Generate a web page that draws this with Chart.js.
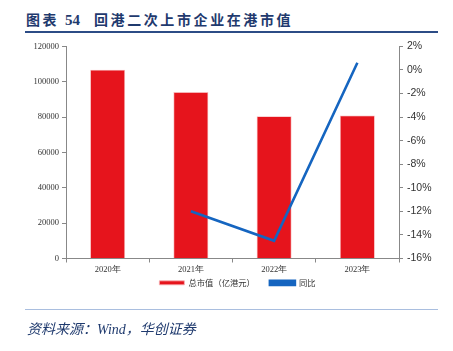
<!DOCTYPE html>
<html>
<head>
<meta charset="utf-8">
<script src="https://cdn.jsdelivr.net/npm/chart.js@4/dist/chart.umd.min.js"></script>
<style>
  body { margin: 0; background: #fff; width: 453px; height: 351px; position: relative; overflow: hidden; }
  #title { position: absolute; left: 26px; top: 9px; font: bold 14px "Noto Sans CJK SC", sans-serif; color: #1f3a6e; letter-spacing: 2.6px; white-space: nowrap; }
  #title .num { font-family: "Liberation Serif", serif; font-size: 15px; letter-spacing: 0; margin: 0 14px 0 2px; }
  #topline { position: absolute; left: 25px; top: 31px; width: 413px; height: 2px; background: #2c4c86; }
  #botline { position: absolute; left: 25px; top: 309px; width: 413px; height: 1px; background: #a9bedf; }
  #source { position: absolute; left: 27px; top: 318px; font: italic 14px "Noto Sans CJK SC", "Liberation Serif", serif; color: #1f3a6e; white-space: nowrap; }
  #source .en { font-family: "Liberation Serif", serif; }
  #wrap { position: absolute; left: 0; top: 36px; width: 453px; height: 274px; }
</style>
</head>
<body>
<div id="title">图表<span class="num"> 54</span>回港二次上市企业在港市值</div>
<div id="topline"></div>
<div id="wrap"><canvas id="myChart"></canvas></div>
<div id="botline"></div>
<div id="source">资料来源：<span class="en">Wind</span>，华创证券</div>
<script>
const labels = ["2020年", "2021年", "2022年", "2023年"];
const marketCap = [106800, 94100, 80500, 80900];
const yoy = [null, -12.0, -14.5, 0.6];

// pull the legend a bit closer to the axis labels, and slightly right
const legendShift = {
  id: "legendShift",
  afterLayout(chart) {
    chart.legend.top -= 13;
    chart.legend.bottom -= 13;
    chart.legend.left += 5;
    chart.legend.right += 5;
  }
};

const ctx = document.getElementById("myChart");

new Chart(ctx, {
  type: "bar",
  data: {
    labels: labels,
    datasets: [
      {
        type: "line",
        label: "同比",
        data: yoy,
        yAxisID: "y1",
        borderColor: "#1565c0",
        backgroundColor: "#1565c0",
        borderWidth: 2.6,
        pointRadius: 0,
        tension: 0,
        order: 0
      },
      {
        label: "总市值（亿港元）",
        data: marketCap,
        yAxisID: "y",
        backgroundColor: "#e6141c",
        borderColor: "#f6b3b5",
        borderWidth: 0.8,
        barPercentage: 0.42,
        categoryPercentage: 1,
        order: 1
      }
    ]
  },
  options: {
    responsive: true,
    maintainAspectRatio: false,
    animation: false,
    layout: { padding: { top: 6, left: 0, right: 0, bottom: 0 } },
    plugins: {
      tooltip: { enabled: false },
      legend: {
        position: "bottom",
        fullSize: false,
        reverse: true,
        labels: {
          boxWidth: 25,
          boxHeight: 4,
          padding: 15,
          color: "#333",
          font: { family: "Noto Sans CJK SC", size: 8.3 }
        }
      }
    },
    scales: {
      x: {
        grid: { display: true, drawOnChartArea: false, offset: true, tickLength: 4, color: "#888" },
        border: { color: "#888" },
        ticks: { color: "#333", padding: 2, font: { family: "Liberation Serif", size: 8.5 } }
      },
      y: {
        position: "left",
        min: 0,
        max: 120000,
        afterFit: (scale) => { scale.width = 66; },
        grid: { display: true, drawOnChartArea: false, tickLength: 4, color: "#888" },
        border: { color: "#888" },
        ticks: {
          stepSize: 20000,
          color: "#333",
          padding: 3,
          font: { family: "Liberation Serif", size: 8.5 },
          callback: (v) => String(v)
        }
      },
      y1: {
        position: "right",
        min: -16,
        max: 2,
        afterFit: (scale) => { scale.width = 54; },
        grid: { display: true, drawOnChartArea: false, tickLength: 4, color: "#888" },
        border: { color: "#888" },
        ticks: {
          stepSize: 2,
          color: "#333",
          padding: 4,
          font: { family: "Liberation Sans", size: 10.5 },
          callback: (v) => v + "%"
        }
      }
    }
  },
  plugins: [legendShift]
});
</script>
</body>
</html>
